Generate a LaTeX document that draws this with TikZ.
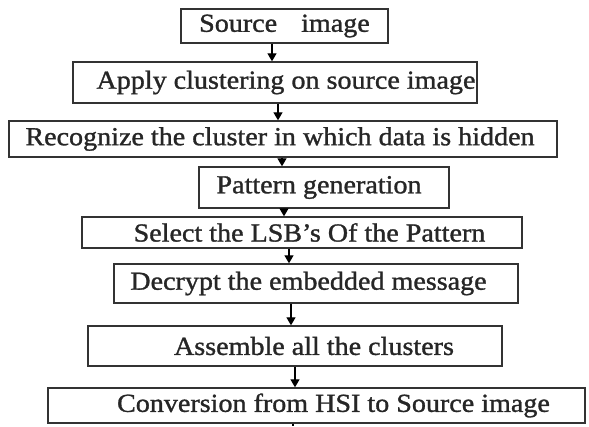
\documentclass[tikz,border=0pt]{standalone}
\usepackage{fontspec}
\setmainfont{Liberation Serif}[FakeStretch=1.08,FakeBold=1.2]
\usetikzlibrary{arrows.meta}
\definecolor{edge}{HTML}{333333}
\tikzset{
  box/.style={draw=edge, line width=1.4pt, inner sep=0pt, text=black!85,
    font=\fontsize{26}{30}\selectfont},
  arr/.style={draw=black, line width=1.3pt, -{Triangle[length=8pt,width=9pt]}},
  plain/.style={draw=black, line width=1.3pt}
}
\begin{document}
\begin{tikzpicture}[x=1pt,y=-1pt]
\useasboundingbox (0,0) rectangle (589,426);
\node[box, minimum width=207pt, minimum height=34pt] (b1) at (284.5,26) {Source\hspace{17pt} image};
\node[box, minimum width=404pt, minimum height=41pt] (b2) at (275,82.5) {\hspace*{22pt}Apply clustering on source image};
\node[box, minimum width=548pt, minimum height=36pt] (b3) at (283,139) {Recognize the cluster in which data is hidden\hspace*{6pt}};
\node[box, minimum width=250pt, minimum height=41pt] (b4) at (324,187.5) {Pattern generation\hspace*{10pt}};
\node[box, minimum width=440pt, minimum height=31pt] (b5) at (302,232.5) {\hspace*{15pt}Select the LSB’s Of the Pattern};
\node[box, minimum width=404pt, minimum height=39pt] (b6) at (316,283.5) {Decrypt the embedded message\hspace*{15pt}};
\node[box, minimum width=414pt, minimum height=40pt] (b7) at (295,346) {\hspace*{38pt}Assemble all the clusters};
\node[box, minimum width=537pt, minimum height=35pt] (b8) at (316.5,405.5) {\hspace*{34pt}Conversion from HSI to Source image};
\coordinate (a1) at (272,0);
\coordinate (a2) at (278,0);
\coordinate (a3) at (282,0);
\coordinate (a4) at (284,0);
\coordinate (a5) at (289,0);
\coordinate (a6) at (291,0);
\coordinate (a7) at (295,0);
\coordinate (tail) at (293,426);
\draw[arr] (b1.south -| a1) -- (b2.north -| a1);
\draw[arr] (b2.south -| a2) -- (b3.north -| a2);
\draw[arr] (b3.south -| a3) -- (b4.north -| a3);
\draw[arr] (b4.south -| a4) -- (b5.north -| a4);
\draw[arr] (b5.south -| a5) -- (b6.north -| a5);
\draw[arr] (b6.south -| a6) -- (b7.north -| a6);
\draw[arr] (b7.south -| a7) -- (b8.north -| a7);
\draw[plain] (b8.south -| tail) -- (tail);
\end{tikzpicture}
\end{document}
